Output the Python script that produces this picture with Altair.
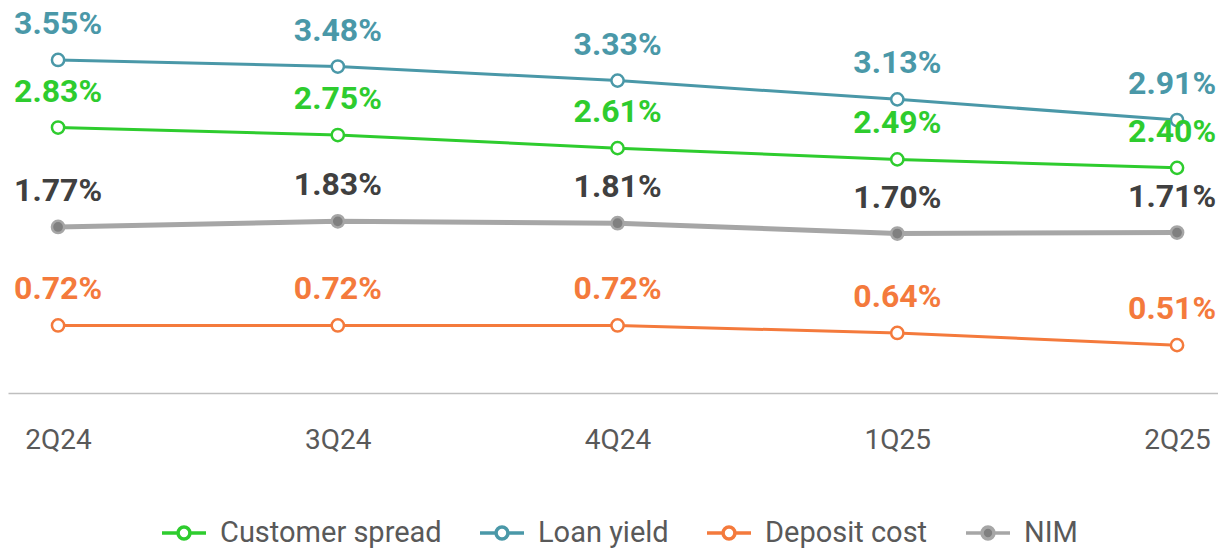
import altair as alt
import pandas as pd

quarters = ["2Q24", "3Q24", "4Q24", "1Q25", "2Q25"]
series_names = ["Customer spread", "Loan yield", "Deposit cost", "NIM"]
customer_spread = [2.83, 2.75, 2.61, 2.49, 2.40]
loan_yield = [3.55, 3.48, 3.33, 3.13, 2.91]
deposit_cost = [0.72, 0.72, 0.72, 0.64, 0.51]
nim = [1.77, 1.83, 1.81, 1.70, 1.71]

line_colors = ["#2ECC2E", "#4A98A8", "#F47A3C", "#A6A6A6"]
point_fills = ["#FFFFFF", "#FFFFFF", "#FFFFFF", "#808080"]
label_colors = ["#2ECC2E", "#4A98A8", "#F47A3C", "#404040"]

values = {
    "Customer spread": customer_spread,
    "Loan yield": loan_yield,
    "Deposit cost": deposit_cost,
    "NIM": nim,
}
rows = []
for s in series_names:
    for q, v in zip(quarters, values[s]):
        rows.append({"quarter": q, "series": s, "value": v, "label": f"{v:.2f}%"})
df = pd.DataFrame(rows)

FONT = "Roboto"
x_enc = alt.X(
    "quarter:N",
    sort=quarters,
    scale=alt.Scale(type="point", padding=0.1627, align=0.55),
    axis=alt.Axis(
        title=None,
        ticks=False,
        tickSize=0,
        labelFontSize=28,
        labelColor="#595959",
        labelFont=FONT,
        labelPadding=47,
        labelBaseline="middle",
        labelAngle=0,
        domainColor="#BFBFBF",
        domainWidth=1.5,
        grid=False,
    ),
)
y_enc = alt.Y("value:Q", scale=alt.Scale(domain=[0, 4.04], nice=False, zero=True), axis=None)

legend_path = (
    "M-1,0L-0.28,0M0.28,0L1,0"
    "M-0.27,0A0.27,0.27 0 1,0 0.27,0A0.27,0.27 0 1,0 -0.27,0Z"
)
legend = alt.Legend(
    title=None,
    orient="none",
    legendX=152,
    legendY=495,
    direction="horizontal",
    symbolType=legend_path,
    symbolSize=1936,
    symbolStrokeWidth=3.5,
    labelFontSize=29,
    labelColor="#595959",
    labelFont=FONT,
    labelOffset=12,
    labelLimit=0,
    columnPadding=31,
)

stroke_enc = alt.Stroke(
    "series:N", scale=alt.Scale(domain=series_names, range=line_colors), legend=legend
)
fill_enc = alt.Fill(
    "series:N", scale=alt.Scale(domain=series_names, range=point_fills), legend=legend
)
label_color = alt.Color(
    "series:N", scale=alt.Scale(domain=series_names, range=label_colors), legend=None
)

base = alt.Chart(df).encode(x=x_enc, y=y_enc)

lines = base.mark_line().encode(
    stroke=stroke_enc,
    strokeWidth=alt.condition(alt.datum.series == "NIM", alt.value(5), alt.value(3)),
)
points = base.mark_point(filled=False, size=150, strokeWidth=2.5, opacity=1).encode(
    stroke=stroke_enc, fill=fill_enc
)
text_props = dict(fontSize=32, fontWeight="bold", font=FONT, baseline="middle", align="center")
texts = (
    base.transform_filter(alt.datum.quarter != quarters[-1])
    .mark_text(dy=-36, **text_props)
    .encode(text="label:N", color=label_color)
)
texts_last = (
    base.transform_filter(alt.datum.quarter == quarters[-1])
    .mark_text(dy=-36, dx=-5, **text_props)
    .encode(text="label:N", color=label_color)
)

chart = (
    alt.layer(lines, points, texts, texts_last)
    .properties(
        width=1210,
        height=379,
        autosize=alt.AutoSizeParams(type="none"),
        padding={"top": 6, "left": 0, "right": 0, "bottom": 155},
    )
    .configure_view(stroke=None)
)

chart.save("out.html", embed_options={"renderer": "svg", "actions": False})
